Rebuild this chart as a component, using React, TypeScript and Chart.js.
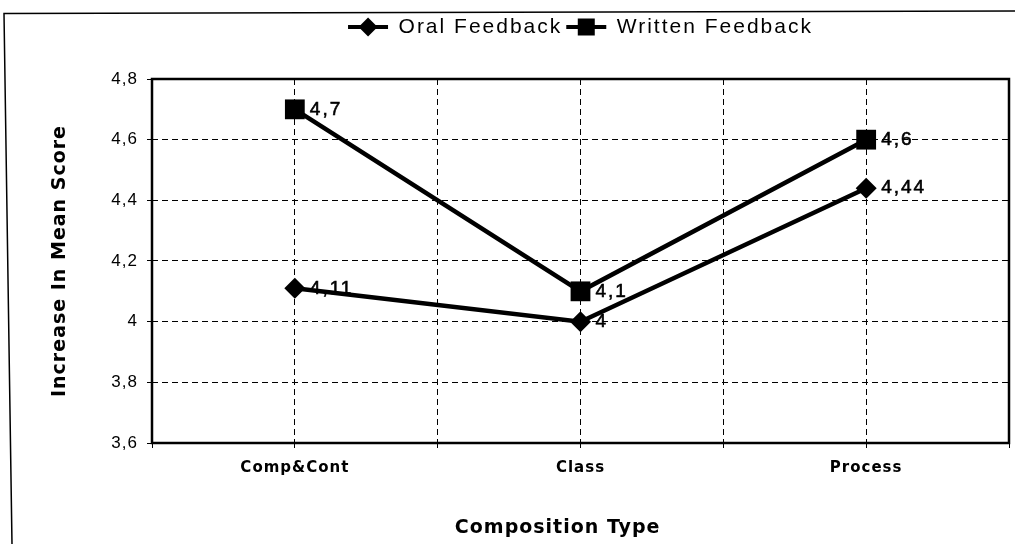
import { useEffect, useRef } from 'react';
import { Chart, registerables } from 'chart.js';

Chart.register(...registerables);

const categories = ['Comp&Cont', 'Class', 'Process'];
const seriesNames = ['Oral Feedback', 'Written Feedback'];
const oralValues = [4.11, 4.0, 4.44];
const writtenValues = [4.7, 4.1, 4.6];
const yTickLabels = ['3,6', '3,8', '4', '4,2', '4,4', '4,6', '4,8'];
const xTitle = 'Composition Type      ';
const yTitle = 'Increase In Mean Score';

const fmt = (v: number) => String(v).replace('.', ',');

const LEGEND_BOX_W = 40;
const LEGEND_GAP = 31.5;

function drawMarker(ctx: CanvasRenderingContext2D, style: string, x: number, y: number, size: number) {
  ctx.beginPath();
  if (style === 'rectRot') {
    ctx.moveTo(x - size, y);
    ctx.lineTo(x, y - size);
    ctx.lineTo(x + size, y);
    ctx.lineTo(x, y + size);
    ctx.closePath();
  } else {
    ctx.rect(x - size, y - size, size * 2, size * 2);
  }
  ctx.fill();
}

const spacingPlugin = {
  id: 'spacing',
  beforeUpdate(chart: any) {
    chart.ctx.letterSpacing = '1px';
    const lg = chart.legend;
    if (lg && !lg._gapPatched) {
      const origFit = lg.fit;
      const origDraw = lg.draw;
      lg.fit = function () {
        const ctx = chart.ctx;
        ctx.letterSpacing = '2px';
        origFit.call(this);
        ctx.letterSpacing = '1px';
        this.height += LEGEND_GAP;
      };
      lg.draw = function (...args: any[]) {
        const ctx = chart.ctx;
        ctx.letterSpacing = '2px';
        origDraw.apply(this, args);
        ctx.letterSpacing = '1px';
      };
      lg._gapPatched = true;
    }
  },
  beforeDraw(chart: any) {
    const ctx = chart.ctx as CanvasRenderingContext2D;
    ctx.letterSpacing = '1px';
    ctx.save();
    ctx.strokeStyle = '#000';
    ctx.lineWidth = 1.5;
    ctx.beginPath();
    ctx.moveTo(12, 544);
    ctx.lineTo(4, 13.5);
    ctx.lineTo(1015, 11);
    ctx.stroke();
    ctx.restore();
  },
  beforeDatasetsDraw(chart: any) {
    const ctx = chart.ctx as CanvasRenderingContext2D;
    const a = chart.chartArea;
    ctx.save();
    ctx.strokeStyle = '#000';
    ctx.lineWidth = 2.5;
    ctx.strokeRect(a.left, a.top, a.right - a.left, a.bottom - a.top);
    ctx.restore();
  },
  afterDatasetsDraw(chart: any) {
    const ctx = chart.ctx as CanvasRenderingContext2D;
    ctx.save();
    ctx.font = '19px "Liberation Sans", Arial, sans-serif';
    ctx.letterSpacing = '2px';
    ctx.fillStyle = '#000';
    ctx.strokeStyle = '#000';
    ctx.lineWidth = 0.6;
    ctx.textAlign = 'left';
    ctx.textBaseline = 'middle';
    chart.data.datasets.forEach((ds: any, di: number) => {
      const meta = chart.getDatasetMeta(di);
      meta.data.forEach((pt: any, i: number) => {
        const t = fmt(ds.data[i].y);
        ctx.fillText(t, pt.x + 15, pt.y);
        ctx.strokeText(t, pt.x + 15, pt.y);
      });
    });
    ctx.restore();
  },
  afterDraw(chart: any) {
    const lg = chart.legend;
    if (!lg || !lg.legendHitBoxes) return;
    const ctx = chart.ctx as CanvasRenderingContext2D;
    ctx.save();
    ctx.fillStyle = '#000';
    lg.legendHitBoxes.forEach((hb: any, i: number) => {
      const ds = chart.data.datasets[i];
      const cx = hb.left + LEGEND_BOX_W / 2;
      const cy = hb.top + hb.height / 2;
      drawMarker(ctx, ds.pointStyle, cx, cy, ds.pointStyle === 'rectRot' ? 9.5 : 8.5);
    });
    ctx.restore();
  },
};

export default function App() {
  const ref = useRef<HTMLCanvasElement>(null);
  useEffect(() => {
    const canvas = ref.current!;
    Chart.defaults.font.family = '"Liberation Sans", Arial, sans-serif';
    Chart.defaults.color = '#000';
    const chart = new Chart(canvas, {
      type: 'line',
      data: {
        datasets: [
          {
            label: seriesNames[0],
            data: oralValues.map((v, i) => ({ x: i, y: v })),
            borderColor: '#000',
            backgroundColor: '#000',
            borderWidth: 4.5,
            pointStyle: 'rectRot',
            pointRadius: 10.5,
            pointBorderWidth: 0,
            pointBackgroundColor: '#000',
            tension: 0,
          },
          {
            label: seriesNames[1],
            data: writtenValues.map((v, i) => ({ x: i, y: v })),
            borderColor: '#000',
            backgroundColor: '#000',
            borderWidth: 4.5,
            pointStyle: 'rect',
            pointRadius: 14,
            pointBorderWidth: 0,
            pointBackgroundColor: '#000',
            tension: 0,
          },
        ],
      },
      options: {
        animation: false,
        responsive: true,
        maintainAspectRatio: false,
        layout: { autoPadding: false, padding: { left: 44.2, right: 6, top: 12.5, bottom: 1 } },
        plugins: {
          tooltip: { enabled: false },
          legend: {
            display: true,
            position: 'top',
            fullSize: false,
            labels: {
              color: '#000',
              font: { family: '"Liberation Sans", Arial, sans-serif', size: 21 },
              boxWidth: LEGEND_BOX_W,
              boxHeight: 4,
              padding: 4,
              generateLabels: (c: any) =>
                c.data.datasets.map((ds: any, i: number) => ({
                  text: ds.label,
                  fillStyle: '#000',
                  strokeStyle: '#000',
                  lineWidth: 0,
                  hidden: false,
                  datasetIndex: i,
                  fontColor: '#000',
                })),
            },
          },
        },
        scales: {
          x: {
            type: 'linear',
            min: -0.5,
            max: 2.5,
            ticks: {
              stepSize: 0.5,
              autoSkip: false,
              maxRotation: 0,
              padding: 11,
              color: '#000',
              font: { family: '"DejaVu Sans", sans-serif', size: 15, weight: 'bold' },
              callback: (v: any) => (Number.isInteger(v) ? categories[v] : ''),
            },
            grid: { color: '#000', lineWidth: 1, tickLength: 5, drawTicks: true },
            border: { display: false, dash: [6, 4] },
            title: {
              display: true,
              text: xTitle,
              color: '#000',
              font: { family: '"DejaVu Sans", sans-serif', size: 19, weight: 'bold' },
              padding: { top: 4, bottom: 4 },
            },
            afterFit: (s: any) => {
              s.height = 100;
              s.paddingLeft = 0;
              s.paddingRight = 0;
            },
          },
          y: {
            min: 3.6,
            max: 4.8,
            ticks: {
              stepSize: 0.2,
              padding: 9,
              color: '#000',
              font: { family: '"Liberation Sans", Arial, sans-serif', size: 17 },
              callback: (_v: any, i: number) => yTickLabels[i],
            },
            grid: { color: '#000', lineWidth: 1, tickLength: 5, drawTicks: true },
            border: { display: false, dash: [6, 4] },
            title: {
              display: true,
              text: yTitle,
              color: '#000',
              font: { family: '"DejaVu Sans", sans-serif', size: 19, weight: 'bold' },
              padding: { top: 4, bottom: 4 },
            },
            afterFit: (s: any) => {
              s.width = 107.8;
            },
          },
        },
      },
      plugins: [spacingPlugin],
    } as any);
    return () => chart.destroy();
  }, []);
  return (
    <div style={{ position: 'fixed', left: 0, top: 0, width: 1015, height: 544, background: '#fff' }}>
      <canvas ref={ref} />
    </div>
  );
}
